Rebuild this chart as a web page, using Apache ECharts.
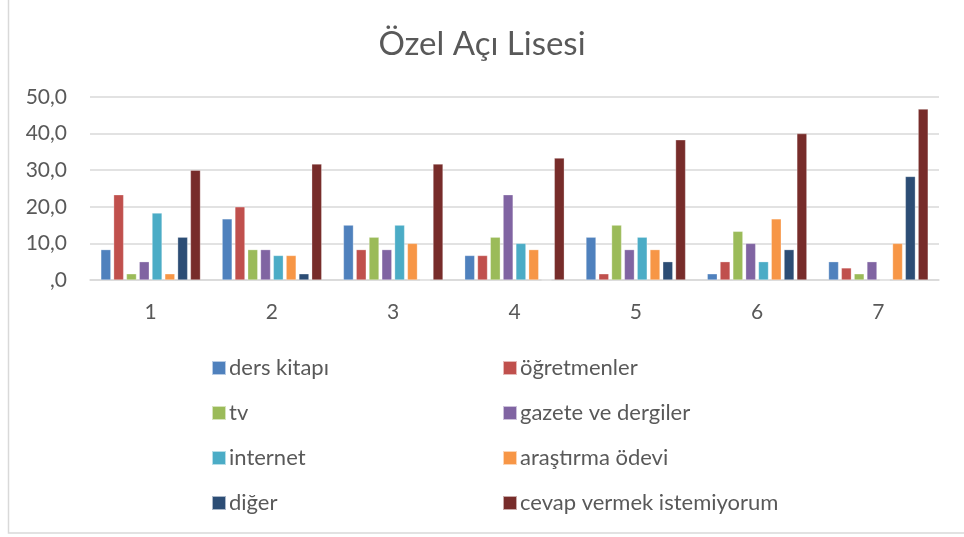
<!DOCTYPE html>
<html>
<head>
<meta charset="UTF-8">
<title>Özel Açı Lisesi</title>
<script src="https://cdn.jsdelivr.net/npm/echarts@6/dist/echarts.min.js"></script>
</head>
<body style="margin:0;background:#fff;">
<div id="container" style="width:964px;height:537px;"></div>
<script>
var categories = ['1', '2', '3', '4', '5', '6', '7'];
var seriesNames = ['ders kitapı', 'öğretmenler', 'tv', 'gazete ve dergiler', 'internet', 'araştırma ödevi', 'diğer', 'cevap vermek istemiyorum'];
var colors = ['#4F81BD', '#C0504D', '#9BBB59', '#8064A2', '#4BACC6', '#F79646', '#2C4D75', '#772C2A'];

var dersKitapi  = [8.3, 16.7, 15.0, 6.7, 11.7, 1.7, 5.0];
var ogretmenler = [23.3, 20.0, 8.3, 6.7, 1.7, 5.0, 3.3];
var tv          = [1.7, 8.3, 11.7, 11.7, 15.0, 13.3, 1.7];
var gazete      = [5.0, 8.3, 8.3, 23.3, 8.3, 10.0, 5.0];
var internet    = [18.3, 6.7, 15.0, 10.0, 11.7, 5.0, 0];
var arastirma   = [1.7, 6.7, 10.0, 8.3, 8.3, 16.7, 10.0];
var diger       = [11.7, 1.7, 0, 0, 5.0, 8.3, 28.3];
var cevap       = [30.0, 31.7, 31.7, 33.3, 38.3, 40.0, 46.7];

var allValues = [dersKitapi, ogretmenler, tv, gazete, internet, arastirma, diger, cevap];

var font = 'Lato, "Open Sans", sans-serif';
var chart = echarts.init(document.getElementById('container'));

var legendText = { fontFamily: font, fontSize: 22, color: '#595959', padding: [0, 0, 0, -2] };

var option = {
  animation: false,
  color: colors,
  title: {
    text: 'Özel Açı Lisesi',
    left: 'center',
    top: 23,
    textStyle: { fontFamily: font, fontSize: 33, fontWeight: 'normal', color: '#595959' }
  },
  legend: [
    {
      orient: 'vertical', left: 206, top: 352, itemGap: 23,
      itemWidth: 14, itemHeight: 14, icon: 'rect',
      data: [seriesNames[0], seriesNames[2], seriesNames[4], seriesNames[6]],
      textStyle: legendText
    },
    {
      orient: 'vertical', left: 497, top: 352, itemGap: 23,
      itemWidth: 14, itemHeight: 14, icon: 'rect',
      data: [seriesNames[1], seriesNames[3], seriesNames[5], seriesNames[7]],
      textStyle: legendText
    }
  ],
  grid: { left: 90, right: 25, top: 97, bottom: 257 },
  xAxis: {
    type: 'category',
    data: categories,
    axisLine: { lineStyle: { color: '#d9d9d9', width: 1.5 } },
    axisTick: { show: false },
    axisLabel: { fontFamily: font, fontSize: 21, color: '#595959', margin: 22 }
  },
  yAxis: {
    type: 'value',
    min: 0, max: 50, interval: 10,
    axisLine: { show: false },
    axisTick: { show: false },
    splitLine: { lineStyle: { color: '#d9d9d9', width: 1.5 } },
    axisLabel: {
      fontFamily: font, fontSize: 21, color: '#595959', margin: 23,
      formatter: function (v) { return v === 0 ? ',0' : v.toFixed(1).replace('.', ','); }
    }
  },
  graphic: [{
    type: 'rect',
    shape: { x: 8.5, y: -10, width: 1000, height: 543 },
    style: { fill: 'none', stroke: '#d9d9d9', lineWidth: 1.5 },
    silent: true
  }],
  series: seriesNames.map(function (name, i) {
    return {
      name: name,
      type: 'bar',
      data: allValues[i],
      barWidth: 10,
      barGap: '28%',
      itemStyle: { color: colors[i], borderColor: 'rgba(255,255,255,0.6)', borderWidth: 0.5 }
    };
  })
};

chart.setOption(option);
</script>
</body>
</html>
